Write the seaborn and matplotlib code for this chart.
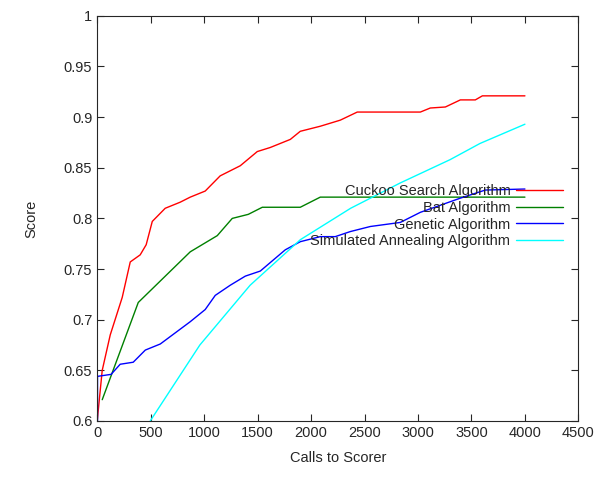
import matplotlib
matplotlib.use("Agg")
import matplotlib.pyplot as plt
import seaborn as sns

cuckoo_x = [0,47,122,234,309,402,458,515,636,776,870,1010,1150,1338,1497,1618,1806,1899,2086,2273,2432,3022,3115,3256,3396,3536,3602,4000]
cuckoo_y = [0.6,0.65,0.685,0.722,0.757,0.764,0.774,0.797,0.81,0.816,0.821,0.827,0.842,0.852,0.866,0.87,0.878,0.886,0.891,0.897,0.905,0.905,0.909,0.91,0.917,0.917,0.921,0.921]
bat_x = [47,384,870,1123,1263,1413,1544,1899,2086,4000]
bat_y = [0.621,0.717,0.767,0.783,0.8,0.804,0.811,0.811,0.821,0.821]
gen_x = [0,130,215,337,450,590,730,870,1010,1104,1244,1385,1525,1759,1899,2086,2226,2367,2554,2834,3022,3209,3396,3630,4000]
gen_y = [0.644,0.646,0.656,0.658,0.67,0.676,0.687,0.698,0.71,0.724,0.734,0.743,0.748,0.769,0.777,0.782,0.782,0.787,0.792,0.796,0.806,0.813,0.82,0.828,0.829]
sa_x = [496,960,1430,1900,2370,2834,3300,3580,4000]
sa_y = [0.6,0.675,0.734,0.779,0.81,0.835,0.858,0.874,0.893]

series = [("Cuckoo Search Algorithm", cuckoo_x, cuckoo_y, "#ff0000"),
          ("Bat Algorithm", bat_x, bat_y, "#008000"),
          ("Genetic Algorithm", gen_x, gen_y, "#0000ff"),
          ("Simulated Annealing Algorithm", sa_x, sa_y, "#00ffff")]

sns.set_style("ticks")
plt.rcParams["font.family"] = "Liberation Sans"
plt.rcParams["font.sans-serif"] = ["Liberation Sans"]
fig = plt.figure(figsize=(6, 4.8), dpi=100)
ax = fig.add_axes([0.162, 0.123, 0.802, 0.844])
for name, xs, ys, c in series:
    sns.lineplot(x=xs, y=ys, ax=ax, color=c, label=name, linewidth=1, estimator=None, sort=False)
ax.plot([0, 0], [0.6, 0.644], color="#0000ff", lw=1)
ax.set_xlim(0, 4500)
ax.set_ylim(0.6, 1.0)
ax.set_xticks(range(0, 4501, 500))
ax.set_yticks([0.6,0.65,0.7,0.75,0.8,0.85,0.9,0.95,1.0])
ax.set_yticklabels(["0.6","0.65","0.7","0.75","0.8","0.85","0.9","0.95","1"])
ax.tick_params(direction="in", top=True, right=True, labelsize=10.5, length=5)
for s in ax.spines.values():
    s.set_linewidth(0.8)
ax.set_xlabel("Calls to Scorer", fontsize=10.5, labelpad=8)
ax.set_ylabel("Score", fontsize=10.5, labelpad=18)
ax.legend(loc="upper right", bbox_to_anchor=(0.98, 0.6), frameon=False, markerfirst=False,
          fontsize=10.5, handlelength=3.2, labelspacing=0.2, borderaxespad=0, handletextpad=0.4)
fig.savefig("out.png", dpi=100)
